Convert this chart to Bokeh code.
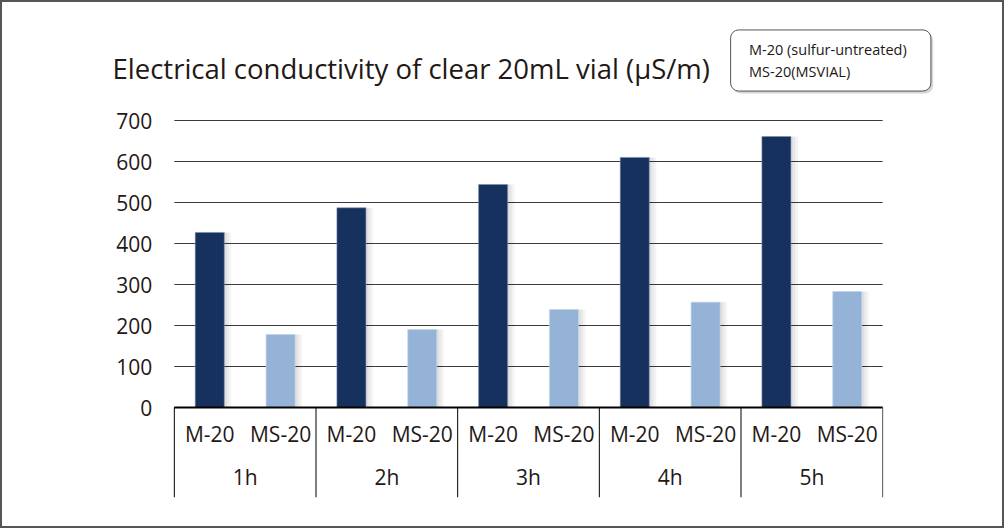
from bokeh.plotting import figure
from bokeh.models import (ColumnDataSource, FactorRange, Range1d, FixedTicker, Legend,
                          LegendItem, Label)
from bokeh.transform import dodge
from bokeh.embed import file_html
from bokeh.resources import INLINE

# ---- data ----
hours = ["1h", "2h", "3h", "4h", "5h"]
vials = ["M-20", "MS-20"]
m20_values = [427, 487, 544, 610, 661]
ms20_values = [178, 190, 239, 257, 283]
y_ticks = [0, 100, 200, 300, 400, 500, 600, 700]
legend_labels = ["M-20 (sulfur-untreated)", "MS-20(MSVIAL)"]
title_text = "Electrical conductivity of clear 20mL vial (μS/m)"

# ---- style / layout ----
FONT = "Open Sans"
TEXT = "#231815"
DARK = "#17315E"
LIGHT = "#95B3D7"
GRID = "#3a3a3a"
W, H = 1004, 528
FL, FR, FT, FB = 103, 953, 10, 497        # frame edges on the canvas (px)
PX_PER_UNIT = 287 / 700                    # 0..700 spans 287 px
Y_BOTTOM = -(FB - 407) / PX_PER_UNIT       # value axis sits at y = 407 px
Y_TOP = 700 + (120 - FT) / PX_PER_UNIT     # 700 gridline at y = 120 px
BAR_W = 0.41

factors = [(h, v) for h in hours for v in vials]
x_range = FactorRange(*factors, factor_padding=0, group_padding=0,
                      range_padding=0.2, range_padding_units="percent")

p = figure(width=W, height=H, x_range=x_range, y_range=Range1d(Y_BOTTOM, Y_TOP),
           output_backend="svg", toolbar_location=None,
           min_border_left=FL, min_border_right=W - FR, min_border_top=FT,
           min_border_bottom=H - FB,
           background_fill_alpha=0, border_fill_alpha=0, outline_line_color=None)
p.styles = {"box-shadow": "inset 0 0 0 2px #555555", "background-color": "white"}

# horizontal grid lines (limited to the category span)
first_f, last_f = factors[0], factors[-1]
grid_src = ColumnDataSource(dict(x0=[first_f] * len(y_ticks), x1=[last_f] * len(y_ticks),
                                 y=y_ticks))

src_m = ColumnDataSource(dict(x=[(h, vials[0]) for h in hours], top=m20_values))
src_s = ColumnDataSource(dict(x=[(h, vials[1]) for h in hours], top=ms20_values))

p.segment(x0=dodge("x0", -0.5, range=x_range), x1=dodge("x1", 0.5, range=x_range),
          y0="y", y1="y", source=grid_src, line_color=GRID, line_width=1,
          level="underlay")

# soft shadows to the right of bars
for src in (src_m, src_s):
    for off in (0.03, 0.065, 0.10):
        p.vbar(x=dodge("x", off, range=x_range), top="top", width=BAR_W, source=src,
               fill_color="black", fill_alpha=0.045, line_color=None)

r_m = p.vbar(x="x", top="top", width=BAR_W, source=src_m, fill_color=DARK,
             line_color="#7f92b3", line_alpha=0.55, line_width=1)
r_s = p.vbar(x="x", top="top", width=BAR_W, source=src_s, fill_color=LIGHT,
             line_color="#c4d5ea", line_alpha=0.7, line_width=1)

# zero baseline drawn above bars
base_src = ColumnDataSource(dict(x0=[first_f], x1=[last_f], y=[0]))
p.segment(x0=dodge("x0", -0.5, range=x_range), x1=dodge("x1", 0.5, range=x_range),
          y0="y", y1="y", source=base_src, line_color="black", line_width=2)

# group separators below the axis
sep_left = ColumnDataSource(dict(x=[(h, vials[0]) for h in hours],
                                 y0=[0] * len(hours), y1=[Y_BOTTOM] * len(hours)))
sep_right = ColumnDataSource(dict(x=[(hours[-1], vials[-1])], y0=[0], y1=[Y_BOTTOM]))
p.segment(x0=dodge("x", -0.5, range=x_range), x1=dodge("x", -0.5, range=x_range),
          y0="y0", y1="y1", source=sep_left, line_color="black", line_width=1)
p.segment(x0=dodge("x", 0.5, range=x_range), x1=dodge("x", 0.5, range=x_range),
          y0="y0", y1="y1", source=sep_right, line_color="#555555", line_width=1)

# y axis, fixed at the left edge of the categories
ya = p.yaxis[0]
ya.fixed_location = 0
ya.ticker = FixedTicker(ticks=y_ticks)
ya.axis_line_color = None
ya.major_tick_line_color = None
ya.minor_tick_line_color = None
ya.major_tick_out = 0
ya.major_tick_in = 0
ya.major_label_standoff = 22
ya.major_label_text_font = FONT
ya.major_label_text_font_size = "21px"
ya.major_label_text_color = TEXT
p.ygrid.grid_line_color = None
p.xgrid.grid_line_color = None

# x axis (categorical, fixed at zero)
xa = p.xaxis[0]
xa.fixed_location = 0
xa.axis_line_color = None
xa.major_tick_line_color = None
xa.minor_tick_line_color = None
xa.major_tick_out = 0
xa.major_tick_in = 0
xa.major_label_standoff = 12
xa.major_label_text_font = FONT
xa.major_label_text_font_size = "21px"
xa.major_label_text_color = TEXT
xa.group_text_font = FONT
xa.group_text_font_size = "21px"
xa.group_text_font_style = "normal"
xa.group_text_color = TEXT
xa.separator_line_color = None

# title
p.add_layout(Label(x=112 - FL, y=FB - 68, x_units="screen", y_units="screen",
                   text=title_text, text_font=FONT, text_font_size="27.5px",
                   text_color=TEXT, text_align="left", text_baseline="middle"))

# legend box (rounded, with a soft shadow), drawn as blank padded labels
def box(cx, cy, w, h, **kw):
    return Label(x=cx - FL, y=FB - cy, x_units="screen", y_units="screen", text=" ",
                 text_font_size="1px", text_align="center", text_baseline="middle",
                 padding=(int(round(w / 2)), int(round((h - 1) / 2))), **kw)

p.add_layout(box(832.5, 62.5, 201, 61, border_radius=8, background_fill_color="#999999",
                 background_fill_alpha=0.4, border_line_color=None))
p.add_layout(box(830.25, 60, 201, 61, border_radius=8, background_fill_color="white",
                 border_line_color="#555555", border_line_width=1))

legend = Legend(items=[LegendItem(label=legend_labels[0], renderers=[r_m]),
                       LegendItem(label=legend_labels[1], renderers=[r_s])],
                location=(749 - FL, FB - 82), orientation="vertical", padding=0, spacing=0,
                margin=0, glyph_width=0, glyph_height=22, label_height=22, label_standoff=0,
                label_text_font=FONT, label_text_font_size="14.5px", label_text_color=TEXT,
                background_fill_alpha=0, border_line_color=None)
p.add_layout(legend, "center")

open("out.html", "w").write(file_html(p, INLINE))
